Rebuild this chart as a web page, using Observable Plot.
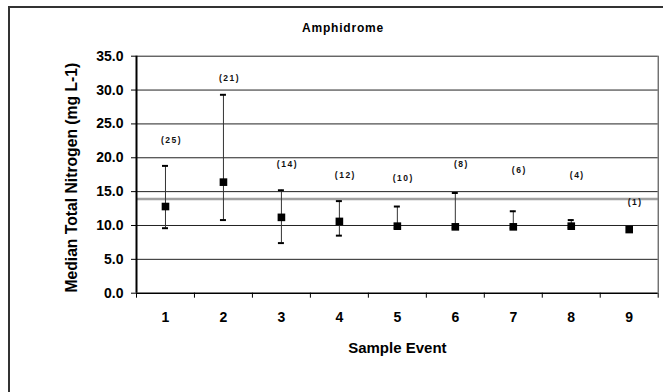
<!DOCTYPE html>
<html><head><meta charset="utf-8">
<script src="https://cdn.jsdelivr.net/npm/d3@7"></script>
<script src="https://cdn.jsdelivr.net/npm/@observablehq/plot@0.6"></script>
<style>
body{margin:0;background:#fff;font-family:"Liberation Sans",Arial,sans-serif;}
#wrap{position:relative;width:663px;height:392px;overflow:hidden;}
#border{position:absolute;left:8px;top:6px;width:700px;height:450px;border-left:2px solid #333;border-top:2px solid #333;}
#title{position:absolute;left:0;width:686px;top:21px;text-align:center;font-weight:bold;font-size:12px;letter-spacing:0.8px;color:#000;}
#chart{position:absolute;left:0;top:0;}
</style></head><body>
<div id="wrap"><div id="border"></div><div id="title">Amphidrome</div><div id="chart"></div></div>
<script>
const events = [1, 2, 3, 4, 5, 6, 7, 8, 9];
const medians = [12.8, 16.4, 11.2, 10.6, 9.9, 9.8, 9.8, 9.9, 9.4];
const lows = [9.6, 10.8, 7.4, 8.5, 9.6, 9.6, 9.6, 9.7, null];
const highs = [18.8, 29.3, 15.2, 13.6, 12.8, 14.8, 12.1, 10.8, null];
const counts = [25, 21, 14, 12, 10, 8, 6, 4, 1];
const labelYs = [22.6, 31.7, 19.0, 17.4, 17.0, 19.0, 18.2, 17.4, 13.4];
const yTicks = [0, 5, 10, 15, 20, 25, 30, 35];
const threshold = 13.9;
const xLabel = "Sample Event";
const yLabel = "Median Total Nitrogen (mg L-1)";

const data = events.map((e, i) => ({event: e, median: medians[i], low: lows[i], high: highs[i], n: counts[i], ly: labelYs[i]}));
const bars = data.filter(d => d.high != null);
const boundaries = [events[0] - 0.5, ...events.map(e => e + 0.5)];

const chart = Plot.plot({
  width: 663, height: 392,
  marginLeft: 136, marginRight: 5.3, marginTop: 55.7, marginBottom: 99.3,
  style: {fontFamily: "'Liberation Sans', Arial, sans-serif", color: "#000", background: "transparent"},
  x: {domain: [boundaries[0], boundaries[boundaries.length - 1]]},
  y: {domain: [0, 35]},
  marks: [
    Plot.ruleY(yTicks.slice(1), {stroke: "#222", strokeWidth: 1}),
    Plot.ruleY([threshold], {stroke: "#a0a0a0", strokeWidth: 2.5}),
    Plot.ruleY([0], {stroke: "#000", strokeWidth: 1.5}),
    Plot.ruleX([boundaries[0]], {stroke: "#000", strokeWidth: 2}),
    Plot.ruleX([boundaries[boundaries.length - 1]], {stroke: "#333", strokeWidth: 1}),
    Plot.axisY({ticks: yTicks, tickFormat: d => d.toFixed(1), tickSize: 5, tickPadding: 8, fontSize: 14, fontWeight: "bold", label: null, stroke: "#000"}),
    Plot.axisX({ticks: boundaries, tickFormat: () => "", tickSize: 5, label: null, stroke: "#000"}),
    Plot.axisX({ticks: events, tickFormat: d => String(d), tickSize: 0, tickPadding: 19, fontSize: 14, fontWeight: "bold", label: null}),
    Plot.ruleX(bars, {x: "event", y1: "low", y2: "high", stroke: "#333", strokeWidth: 1}),
    Plot.ruleY(bars, {x1: "event", x2: "event", y: "high", insetLeft: -3, insetRight: -3, stroke: "#000", strokeWidth: 2}),
    Plot.ruleY(bars, {x1: "event", x2: "event", y: "low", insetLeft: -3, insetRight: -3, stroke: "#000", strokeWidth: 2}),
    Plot.dot(data, {x: "event", y: "median", symbol: "square", r: 4.3, fill: "#000", stroke: null}),
    Plot.text(data, {x: "event", y: "ly", text: d => `(${d.n})`, dx: 6, fontSize: 8.5, fontWeight: "bold", fill: "#111"}),
    Plot.text([yLabel], {frameAnchor: "left", textAnchor: "middle", rotate: -90, dx: -65, dy: 3, fontSize: 15.7, fontWeight: "bold", fill: "#000"}),
    Plot.text([xLabel], {frameAnchor: "bottom", dy: 60, fontSize: 15, fontWeight: "bold", fill: "#000"})
  ]
});
document.getElementById("chart").appendChild(chart);
d3.select(chart).selectAll("text").filter(function() { return /^\(\d+\)$/.test(this.textContent); }).style("letter-spacing", "1.5px");
</script>
</body></html>
